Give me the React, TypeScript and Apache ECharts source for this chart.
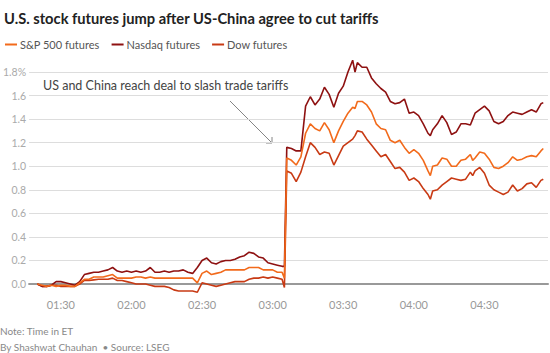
import React, { useEffect, useRef } from "react";
import * as echarts from "echarts";

const times = [
  "01:20","01:22","01:24","01:26","01:28","01:30","01:32","01:34","01:36","01:38",
  "01:40","01:42","01:44","01:46","01:48","01:50","01:52","01:54","01:56","01:58",
  "02:00","02:02","02:04","02:06","02:08","02:10","02:12","02:14","02:16","02:18",
  "02:20","02:22","02:24","02:26","02:28","02:30","02:32","02:34","02:36","02:38",
  "02:40","02:42","02:44","02:46","02:48","02:50","02:52","02:54","02:56","02:58",
  "03:00","03:02","03:04","03:05",
  "03:06","03:08","03:10","03:12","03:14","03:16","03:18","03:20","03:22","03:24","03:26","03:28","03:30","03:32","03:34",
  "03:35",
  "03:36","03:38","03:40","03:42","03:44","03:46","03:48","03:50","03:52","03:54","03:56","03:58","04:00","04:02","04:04","04:06",
  "04:07",
  "04:08","04:10","04:12","04:14","04:16","04:18","04:20","04:22","04:24",
  "04:25",
  "04:26","04:28","04:30","04:32","04:34","04:36","04:38","04:40","04:42","04:44","04:46","04:48","04:50","04:52","04:54",
  "04:55",
];

const sp500 = [
  0.00, -0.01, -0.02, -0.01, -0.02, -0.01, -0.01, -0.02, -0.02, 0.01,
  0.04, 0.04, 0.06, 0.06, 0.06, 0.07, 0.08, 0.05, 0.05, 0.05,
  0.05, 0.06, 0.06, 0.05, 0.06, 0.05, 0.05, 0.05, 0.05, 0.05,
  0.05, 0.05, 0.05, 0.05, 0.01, 0.09, 0.11, 0.08, 0.09, 0.10,
  0.12, 0.12, 0.12, 0.12, 0.12, 0.14, 0.14, 0.14, 0.12, 0.12,
  0.12, 0.10, 0.10, 0.05,
  1.07, 1.05, 1.01, 1.08, 1.28, 1.36, 1.32, 1.30, 1.37, 1.31, 1.20, 1.30, 1.38, 1.45, 1.50,
  1.49,
  1.55, 1.55, 1.52, 1.46, 1.36, 1.32, 1.31, 1.22, 1.20, 1.22, 1.16, 1.11, 1.14, 1.11, 1.05, 0.96,
  0.92,
  1.00, 1.01, 1.07, 1.06, 1.00, 1.00, 1.05, 1.06, 1.10,
  1.05,
  1.07, 1.12, 1.11, 1.06, 0.99, 0.98, 1.00, 1.03, 1.08, 1.05, 1.06, 1.08, 1.09, 1.08, 1.13,
  1.15,
];

const nasdaq = [
  0.00, -0.02, -0.02, -0.01, 0.02, 0.02, 0.01, 0.00, -0.01, 0.02,
  0.08, 0.09, 0.10, 0.10, 0.11, 0.12, 0.14, 0.11, 0.10, 0.11,
  0.10, 0.11, 0.10, 0.11, 0.14, 0.10, 0.10, 0.11, 0.10, 0.11,
  0.11, 0.12, 0.10, 0.09, 0.14, 0.20, 0.22, 0.18, 0.17, 0.19,
  0.20, 0.20, 0.21, 0.23, 0.24, 0.27, 0.26, 0.23, 0.22, 0.18,
  0.17, 0.16, 0.15, 0.15,
  1.16, 1.15, 1.13, 1.13, 1.51, 1.59, 1.52, 1.57, 1.67, 1.61, 1.50, 1.62, 1.68, 1.80, 1.90,
  1.80,
  1.88, 1.84, 1.84, 1.75, 1.70, 1.66, 1.63, 1.55, 1.53, 1.54, 1.57, 1.45, 1.46, 1.43, 1.36, 1.28,
  1.26,
  1.31, 1.36, 1.43, 1.37, 1.27, 1.29, 1.36, 1.36, 1.35,
  1.40,
  1.45, 1.48, 1.51, 1.47, 1.38, 1.36, 1.38, 1.43, 1.46, 1.45, 1.44, 1.46, 1.48, 1.46, 1.53,
  1.54,
];

const dow = [
  0.00, -0.02, -0.02, -0.01, -0.01, -0.02, -0.02, -0.02, -0.02, 0.00,
  0.03, 0.03, 0.035, 0.04, 0.04, 0.04, 0.05, 0.03, 0.03, 0.02,
  0.01, 0.00, 0.00, 0.00, -0.01, -0.02, -0.02, -0.02, -0.03, -0.05,
  -0.06, -0.06, -0.06, -0.06, -0.07, 0.01, 0.00, -0.01, -0.02, -0.01,
  0.00, 0.01, 0.02, 0.02, 0.02, 0.04, 0.05, 0.05, 0.06, 0.05,
  0.06, 0.05, 0.04, -0.03,
  0.96, 0.94, 0.87, 0.95, 1.08, 1.20, 1.16, 1.10, 1.12, 1.11, 1.01, 1.09, 1.17, 1.20, 1.23,
  1.26,
  1.30, 1.29, 1.23, 1.18, 1.13, 1.08, 1.10, 1.04, 0.98, 0.99, 0.95, 0.88, 0.90, 0.87, 0.81, 0.76,
  0.72,
  0.79, 0.80, 0.84, 0.87, 0.90, 0.89, 0.88, 0.89, 0.95,
  0.92,
  0.96, 0.99, 0.94, 0.84, 0.80, 0.78, 0.76, 0.78, 0.84, 0.79, 0.81, 0.85, 0.86, 0.82, 0.88,
  0.89,
];

const tickLabels = ["01:30", "02:00", "02:30", "03:00", "03:30", "04:00", "04:30"];
const yTicks = [0, 0.2, 0.4, 0.6, 0.8, 1.0, 1.2, 1.4, 1.6, 1.8];

const seriesNames = ["S&P 500 futures", "Nasdaq futures", "Dow futures"];
const seriesColors = ["#f26a1b", "#8e1111", "#c83a14"];

const toMin = (s: string) => {
  const [h, m] = s.split(":").map(Number);
  return h * 60 + m;
};
const fmt = (v: number) => {
  const h = Math.floor(v / 60);
  const m = Math.round(v - h * 60);
  return String(h).padStart(2, "0") + ":" + String(m).padStart(2, "0");
};

const FONT = "Lato, 'Open Sans', sans-serif";

export default function App() {
  const ref = useRef<HTMLDivElement>(null);
  useEffect(() => {
    if (!ref.current) return;
    const chart = echarts.init(ref.current, null, { renderer: "svg" });
    const values = [sp500, nasdaq, dow];
    chart.setOption({
      animation: false,
      textStyle: { fontFamily: FONT },
      title: {
        text: "U.S. stock futures jump after US-China agree to cut tariffs",
        left: -1,
        top: 5,
        textStyle: { fontSize: 14.7, fontWeight: "bold", color: "#222", fontFamily: FONT },
      },
      legend: {
        left: 0,
        top: 34,
        icon: "rect",
        itemWidth: 12,
        itemHeight: 2,
        itemGap: 12,
        selectedMode: false,
        textStyle: { fontSize: 11, color: "#555", fontFamily: FONT, padding: [0, 0, 0, -2] },
        data: seriesNames,
      },
      grid: { left: 25, right: 2, top: 72, bottom: 69, containLabel: false },
      xAxis: {
        type: "value",
        min: 76.5,
        max: 297,
        axisLine: { show: true, lineStyle: { color: "#999", width: 2 } },
        axisTick: { show: false },
        splitLine: { show: false },
        axisLabel: {
          customValues: tickLabels.map(toMin),
          formatter: (v: number) => fmt(v),
          color: "#999",
          fontSize: 11,
          margin: 15,
          fontFamily: FONT,
        },
      },
      yAxis: {
        type: "value",
        min: 0,
        max: 1.8,
        interval: 0.2,
        axisLine: { show: false },
        axisTick: { show: false },
        splitLine: { lineStyle: { color: "#ddd", width: 1 } },
        axisLabel: {
          customValues: yTicks,
          formatter: (v: number) => (Math.abs(v - 1.8) < 1e-6 ? "1.8%" : v.toFixed(1)),
          color: "#aaa",
          fontSize: 10.5,
          margin: 3,
          fontFamily: FONT,
        },
      },
      series: seriesNames.map((name, k) => ({
        name,
        type: "line",
        showSymbol: false,
        clip: false,
        z: k === 0 ? 4 : k === 1 ? 3 : 2,
        lineStyle: { color: seriesColors[k], width: 1.6 },
        itemStyle: { color: seriesColors[k] },
        data: times.map((t, i) => [toMin(t), values[k][i]]),
      })),
      graphic: [
        {
          type: "text",
          left: 43,
          top: 79,
          style: {
            text: "US and China reach deal to slash trade tariffs",
            fontSize: 12.5,
            fill: "#444",
            fontFamily: FONT,
          },
        },
        {
          type: "line",
          shape: { x1: 230, y1: 101, x2: 272, y2: 143 },
          style: { stroke: "#666", lineWidth: 0.8 },
        },
        {
          type: "polyline",
          shape: { points: [[266, 143], [272, 143], [272, 137]] },
          style: { stroke: "#666", lineWidth: 0.8, fill: null },
        },
        {
          type: "text",
          left: 0,
          top: 326,
          style: { text: "Note: Time in ET", fontSize: 10, fill: "#888", fontFamily: FONT },
        },
        {
          type: "text",
          left: 0,
          top: 342,
          style: {
            text: "By Shashwat Chauhan  \u2022 Source: LSEG",
            fontSize: 10,
            fill: "#888",
            fontFamily: FONT,
          },
        },
      ],
    });
    return () => chart.dispose();
  }, []);
  return (
    <div
      ref={ref}
      style={{ position: "fixed", left: 0, top: 0, width: 550, height: 353, background: "#fff" }}
    />
  );
}
